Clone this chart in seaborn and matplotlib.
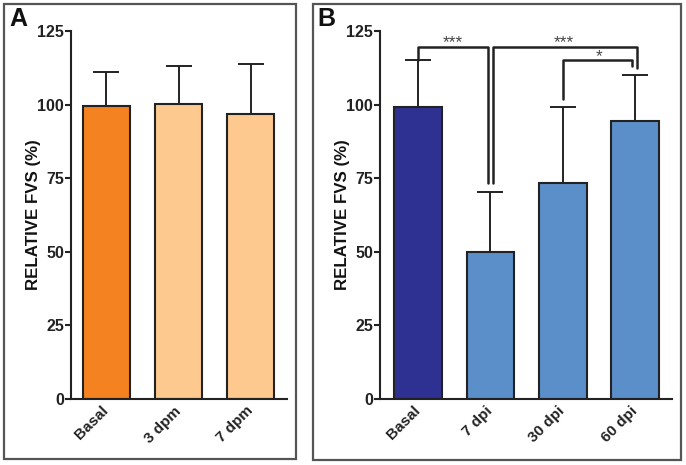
import matplotlib
matplotlib.use("Agg")
import matplotlib.pyplot as plt
import seaborn as sns
import pandas as pd
import numpy as np
from matplotlib.patches import Rectangle

sns.set_theme(style="ticks")
plt.rcParams['font.family'] = ['Liberation Sans', 'DejaVu Sans']

# Data
cats_a = ["Basal", "3 dpm", "7 dpm"]
means_a = [99.5, 100.1, 96.8]
sd_a = [11.7, 13.0, 17.1]
colors_a = ["#F58220", "#FDC98E", "#FDC98E"]

cats_b = ["Basal", "7 dpi", "30 dpi", "60 dpi"]
means_b = [99.2, 50.0, 73.3, 94.3]
sd_b = [15.9, 20.4, 26.0, 15.7]
colors_b = ["#2E3192", "#5B8FC9", "#5B8FC9", "#5B8FC9"]

yticks = [0, 25, 50, 75, 100, 125]
ylabel = "RELATIVE FVS (%)"

fig = plt.figure(figsize=(6.86, 4.65), dpi=100)
W, H = 686, 465

def fx(px):
    return px / W

def fy(py):
    return 1 - py / H

# panel frames
for (x0, y0, x1, y1) in [(4, 4, 296, 459), (313, 4, 681, 460)]:
    fig.patches.append(Rectangle((fx(x0), fy(y1)), fx(x1) - fx(x0), fy(y0) - fy(y1),
                                 transform=fig.transFigure, fill=False,
                                 edgecolor="#555555", linewidth=1.6, zorder=0))

def panel(ax, cats, means, sds, colors, width, xlim):
    df = pd.DataFrame({"cat": cats, "val": means})
    sns.barplot(data=df, x="cat", y="val", hue="cat", palette=colors, legend=False,
                ax=ax, width=width, edgecolor="#222222", linewidth=1.5,
                saturation=1, errorbar=None, zorder=2)
    x = np.arange(len(cats))
    ax.errorbar(x, means, yerr=[np.zeros(len(sds)), sds], fmt="none",
                ecolor="#222222", elinewidth=1.4, capsize=9.7, capthick=1.4, zorder=1)
    ax.set_ylim(0, 125)
    ax.set_xlim(*xlim)
    ax.set_yticks(yticks)
    ax.set_yticklabels([str(t) for t in yticks], fontsize=11.5, fontweight="bold", color="#222222")
    ax.set_xticks(x)
    ax.set_xticklabels(cats, rotation=45, ha="right", va="center", rotation_mode="anchor",
                       fontsize=11, fontweight="bold", color="#222222")
    ax.set_xlabel("")
    ax.set_ylabel(ylabel, fontsize=12.2, fontweight="bold", color="#111111", labelpad=-3)
    for s in ["top", "right"]:
        ax.spines[s].set_visible(False)
    for s in ["left", "bottom"]:
        ax.spines[s].set_linewidth(1.5)
        ax.spines[s].set_color("#222222")
    ax.tick_params(axis="y", length=4, width=1.5, color="#222222", pad=1)
    ax.tick_params(axis="x", length=0, pad=7)
    ax.set_facecolor("none")

axA = fig.add_axes([fx(71), fy(399), fx(287) - fx(71), fy(31) - fy(399)])
panel(axA, cats_a, means_a, sd_a, colors_a, 0.65, (-0.49, 2.5))

axB = fig.add_axes([fx(380), fy(399), fx(672) - fx(380), fy(31) - fy(399)])
panel(axB, cats_b, means_b, sd_b, colors_b, 0.66, (-0.526, 3.51))

# significance brackets in panel B
blw = 1.8
bc = "#222222"
sc = "#444444"
off = 0.04
# Basal vs 7 dpi
axB.plot([0, 0, 1 - off, 1 - off], [115.2, 119.6, 119.6, 73.4], color=bc, lw=blw, zorder=3)
axB.text(0.48, 121.0, "***", ha="center", va="center", fontsize=12.5, color=sc)
# 7 dpi vs 60 dpi
axB.plot([1 + off, 1 + off, 3 + 0.02, 3 + 0.02], [73.4, 119.6, 119.6, 112.4], color=bc, lw=blw, zorder=3)
axB.text(2.02, 121.0, "***", ha="center", va="center", fontsize=12.5, color=sc)
# 30 dpi vs 60 dpi
axB.plot([2, 2, 3 - off, 3 - off], [101.9, 115.2, 115.2, 113.2], color=bc, lw=blw, zorder=3)
axB.text(2.5, 116.3, "*", ha="center", va="center", fontsize=12.5, color=sc)

# panel letters
fig.text(fx(9), fy(7), "A", fontsize=18, fontweight="bold", ha="left", va="top", color="#111111")
fig.text(fx(317), fy(7), "B", fontsize=18, fontweight="bold", ha="left", va="top", color="#111111")

fig.savefig("out.png", dpi=100)
